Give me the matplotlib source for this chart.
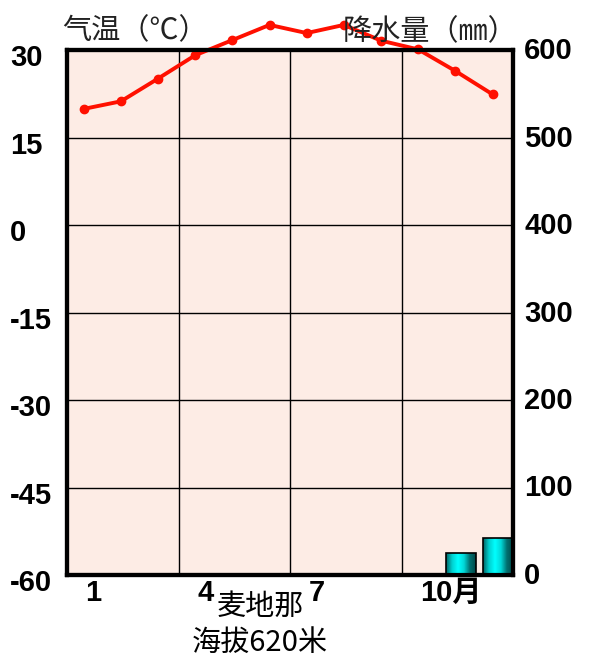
import numpy as np
import matplotlib
matplotlib.use('Agg')
import matplotlib.pyplot as plt
from matplotlib.colors import LinearSegmentedColormap
from matplotlib.transforms import ScaledTranslation

plt.rcParams['font.family'] = ['Liberation Sans', 'Noto Sans CJK SC']
plt.rcParams['axes.unicode_minus'] = False

months = np.arange(1, 13)
temperature = [19.9, 21.2, 25.1, 29.1, 31.7, 34.3, 32.9, 34.3, 31.6, 30.1, 26.4, 22.4]
precipitation = [0, 0, 0, 0, 0, 0, 0, 0, 0, 0, 25.5, 42.6]
month_ticks = [1, 4, 7, 10]
month_labels = ['1', '4', '7', '10月']
temp_ticks = [-60, -45, -30, -15, 0, 15, 30]
precip_ticks = [0, 100, 200, 300, 400, 500, 600]
station = '麦地那'
altitude = '海拔620米'

fig = plt.figure(figsize=(6.12, 6.68), dpi=100)
ax = fig.add_axes([67 / 612, 93 / 668, 446 / 612, 525 / 668])
ax2 = ax.twinx()
ax.set_facecolor('#fdece5')

# precipitation bars with a teal gradient fill
bars = ax2.bar(months - 0.8, precipitation, width=0.8, align='edge',
               color='none', edgecolor='black', lw=1.2, zorder=3)
cmap = LinearSegmentedColormap.from_list(
    'teal', ['#006464', '#00d0d0', '#00ffff', '#00d8d8', '#007070', '#004848'])
grad = np.linspace(0, 1, 100).reshape(1, -1)
for bar in bars:
    if bar.get_height() <= 0:
        continue
    x0, y0 = bar.get_xy()
    im = ax2.imshow(grad, extent=[x0, x0 + bar.get_width(), y0, y0 + bar.get_height()],
                    aspect='auto', cmap=cmap, zorder=2)
    im.set_clip_path(bar)

# temperature line
ax.plot(months - 0.55, temperature, color='#ff1000', lw=2.8, marker='o',
        markersize=6, clip_on=False, zorder=5)

ax.set_xlim(0, 12)
ax.set_ylim(-60, 30)
ax2.set_ylim(0, 600)

for v in np.arange(3, 12, 3):
    ax.axvline(v, color='black', lw=1, zorder=1)
ax.set_yticks(temp_ticks)
ax.grid(axis='y', color='black', lw=1)
ax2.set_yticks(precip_ticks)

ax.set_xticks(np.array(month_ticks) - 0.5)
ax.set_xticklabels(month_labels, ha='left')
for a in (ax, ax2):
    a.tick_params(length=0, labelsize=21)
    for s in a.spines.values():
        s.set_linewidth(3)
ax.tick_params(axis='y', pad=41)
ax.tick_params(axis='x', pad=3)
ax2.tick_params(axis='y', pad=8)
for lab in ax.get_yticklabels() + ax.get_xticklabels() + ax2.get_yticklabels():
    lab.set_fontweight('bold')
down = ScaledTranslation(0, -5 / 100, fig.dpi_scale_trans)
for lab in ax.get_yticklabels():
    lab.set_horizontalalignment('left')
    lab.set_transform(lab.get_transform() + down)
up = ScaledTranslation(0, 2 / 100, fig.dpi_scale_trans)
for lab in ax2.get_yticklabels():
    lab.set_transform(lab.get_transform() + up)

cjk = ['Noto Sans CJK SC', 'DejaVu Sans']
fig.text(62 / 612, 1 - 31 / 668, '气温（℃）', fontsize=21, ha='left', va='center',
         color='#222222', family=cjk)
fig.text(517 / 612, 1 - 32 / 668, '降水量（㎜）', fontsize=21, ha='right', va='center',
         color='#222222', family=cjk)
fig.text(260 / 612, 1 - 607 / 668, station, fontsize=21, ha='center', va='center',
         family=cjk)
fig.text(260 / 612, 1 - 643 / 668, altitude, fontsize=21, ha='center', va='center',
         family=cjk)

fig.savefig('out.png', dpi=100)
